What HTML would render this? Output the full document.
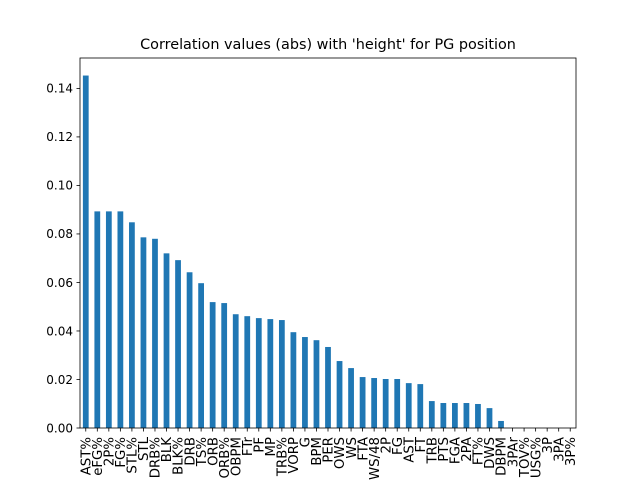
<!DOCTYPE html>
<html><head><meta charset="utf-8"><style>
body{margin:0;background:#fff;}
svg{display:block;font-family:"DejaVu Sans","Liberation Sans",sans-serif;}
</style></head><body>
<svg id="chart" width="640" height="480">
<text x="328" y="49" text-anchor="middle" font-size="14.4">Correlation values (abs) with 'height' for PG position</text>
<g id="bars"></g><g id="axes"></g>
<rect x="80" y="58" width="496" height="370" fill="none" stroke="#000" stroke-width="0.8"/>
</svg>
<script>
const categories=["AST%","eFG%","2P%","FG%","STL%","STL","DRB%","BLK","BLK%","DRB","TS%","ORB","ORB%","OBPM","FTr","PF","MP","TRB%","VORP","G","BPM","PER","OWS","WS","FTA","WS/48","2P","FG","AST","FT","TRB","PTS","FGA","2PA","FT%","DWS","DBPM","3PAr","TOV%","USG%","3P","3PA","3P%"];
const values=[0.1453,0.0893,0.0893,0.0893,0.0848,0.0786,0.078,0.072,0.0692,0.0642,0.0597,0.0519,0.0515,0.0469,0.0461,0.0453,0.0449,0.0445,0.0395,0.0375,0.0362,0.0334,0.0276,0.0247,0.021,0.0206,0.0202,0.0202,0.0185,0.0181,0.0111,0.0103,0.0103,0.0103,0.0099,0.0082,0.0029,0,0,0,0,0,0];
const yTicks=[0,0.02,0.04,0.06,0.08,0.10,0.12,0.14];
const NS="http://www.w3.org/2000/svg";
const L=80,R=576,T=58,B=428,ymax=0.15253;
const y=v=>B-(v/ymax)*(B-T);
const step=(R-L)/categories.length;
const x=i=>L+step*(i+0.5);
const bars=document.getElementById('bars'),axes=document.getElementById('axes');
function mk(tag,attrs,parent){const e=document.createElementNS(NS,tag);for(const k in attrs)e.setAttribute(k,attrs[k]);parent.appendChild(e);return e;}
values.forEach((v,i)=>{
 const r=mk('rect',{x:x(i)-step*0.25,y:y(v),width:step*0.5,height:B-y(v),fill:'#1f77b4'},bars);
 
 
 mk('line',{x1:x(i),x2:x(i),y1:B,y2:B+3.5,stroke:'#000','stroke-width':0.8},axes);
 const t=mk('text',{x:0,y:0,'font-size':13.3,'text-anchor':'end',transform:`translate(${x(i)+4.7},${B+9}) rotate(-90)`},axes);
 t.textContent=categories[i];
 
 
});
yTicks.forEach(v=>{
 mk('line',{x1:L-3.5,x2:L,y1:y(v),y2:y(v),stroke:'#000','stroke-width':0.8},axes);
 const t=mk('text',{x:L-7,y:y(v)+4.3,'font-size':12,'text-anchor':'end'},axes);
 t.textContent=v.toFixed(2);
 
 
});
</script>
</body></html>
